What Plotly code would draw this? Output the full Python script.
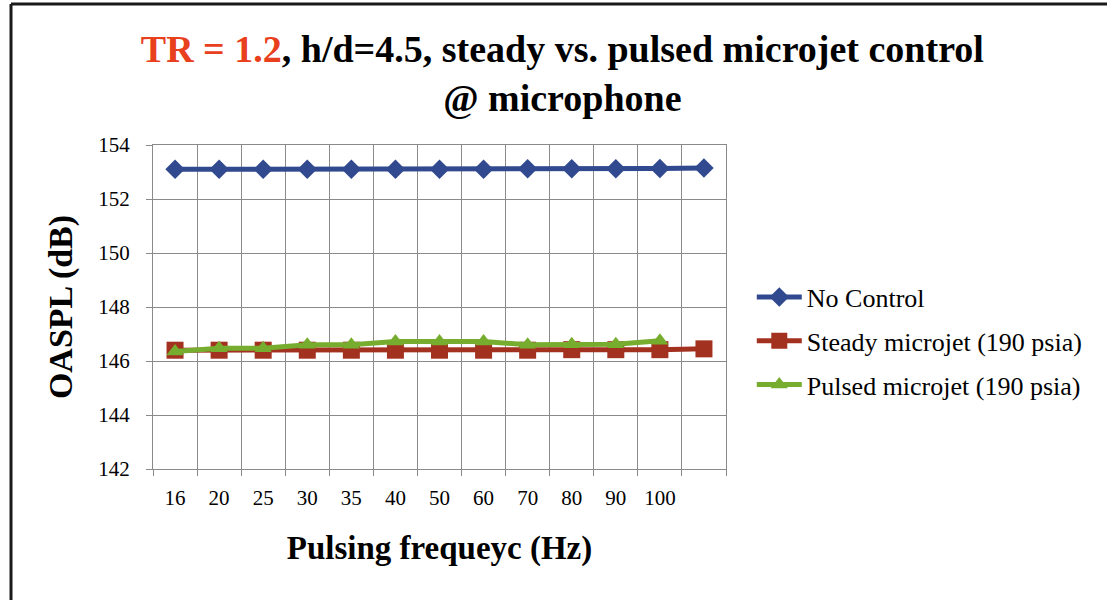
import plotly.graph_objects as go

categories = ["16", "20", "25", "30", "35", "40", "50", "60", "70", "80", "90", "100", " "]
no_control = [153.1, 153.1, 153.1, 153.1, 153.1, 153.1, 153.1, 153.1, 153.12, 153.12, 153.12, 153.13, 153.15]
steady = [146.4, 146.4, 146.4, 146.4, 146.4, 146.4, 146.4, 146.4, 146.4, 146.42, 146.42, 146.42, 146.45]
pulsed = [146.35, 146.47, 146.47, 146.6, 146.6, 146.72, 146.72, 146.72, 146.6, 146.62, 146.62, 146.75]

FONT = "Liberation Serif"
BLUE = "#31498F"
RED = "#A3311F"
GREEN = "#77AD2F"
GRID = "#8a8a8a"

fig = go.Figure()
fig.add_trace(go.Scatter(x=categories, y=no_control, name="No Control", mode="lines+markers",
                         line=dict(color=BLUE, width=5), legendgroup="a",
                         marker=dict(symbol="diamond", size=15, color=BLUE)))
fig.add_trace(go.Scatter(x=categories, y=steady, name="Steady microjet (190 psia)", mode="lines+markers",
                         line=dict(color=RED, width=5), legendgroup="b",
                         marker=dict(symbol="square", size=17, color=RED)))
fig.add_trace(go.Scatter(x=categories[:len(pulsed)], y=pulsed, name="Pulsed microjet (190 psia)", mode="lines+markers",
                         line=dict(color=GREEN, width=5), legendgroup="c",
                         marker=dict(symbol="triangle-up", size=15, color=GREEN)))

fig.update_layout(
    width=1107, height=600,
    paper_bgcolor="white", plot_bgcolor="white",
    margin=dict(l=153, r=381, t=145, b=131),
    font=dict(family=FONT, color="black", size=22),
    title=dict(
        text="<span style='color:#E8401C'>TR = 1.2</span>, h/d=4.5, steady vs. pulsed microjet control<br>@ microphone",
        font=dict(family=FONT, size=38, weight="bold", color="black"),
        x=0.508, xref="container", xanchor="center", y=0.897, yref="container", yanchor="top",
    ),
    xaxis=dict(
        type="category", categoryorder="array", categoryarray=categories,
        range=[-0.5, 12.5], tickson="boundaries", showgrid=True, gridcolor=GRID, gridwidth=1,
        ticks="outside", ticklen=6, tickcolor=GRID, ticklabelstandoff=10,
        showline=True, linecolor=GRID, linewidth=1, mirror=True,
        tickfont=dict(family=FONT, size=21),
        title=dict(text="Pulsing frequeyc (Hz)", font=dict(family=FONT, size=33, weight="bold"), standoff=26),
        zeroline=False,
    ),
    yaxis=dict(
        range=[142, 154], dtick=2, showgrid=True, gridcolor=GRID, gridwidth=1,
        ticks="outside", ticklen=6, tickcolor=GRID, ticklabelstandoff=12,
        showline=True, linecolor=GRID, linewidth=1, mirror=True,
        tickfont=dict(family=FONT, size=21),
        title=dict(text="OASPL (dB)", font=dict(family=FONT, size=34, weight="bold"), standoff=15),
        zeroline=False,
    ),
    legend=dict(x=1.045, xanchor="left", y=0.395, yanchor="middle",
                font=dict(family=FONT, size=26), tracegroupgap=7, traceorder="grouped",
                itemwidth=45, bgcolor="rgba(0,0,0,0)"),
    shapes=[
        dict(type="line", xref="paper", yref="paper", x0=-0.2478, x1=1.7, y0=1.435, y1=1.435,
             line=dict(color="#1a1a1a", width=3)),
        dict(type="line", xref="paper", yref="paper", x0=-0.2478, x1=-0.2478, y0=1.435, y1=-0.5,
             line=dict(color="#1a1a1a", width=3)),
    ],
)

fig.write_html("out.html")
